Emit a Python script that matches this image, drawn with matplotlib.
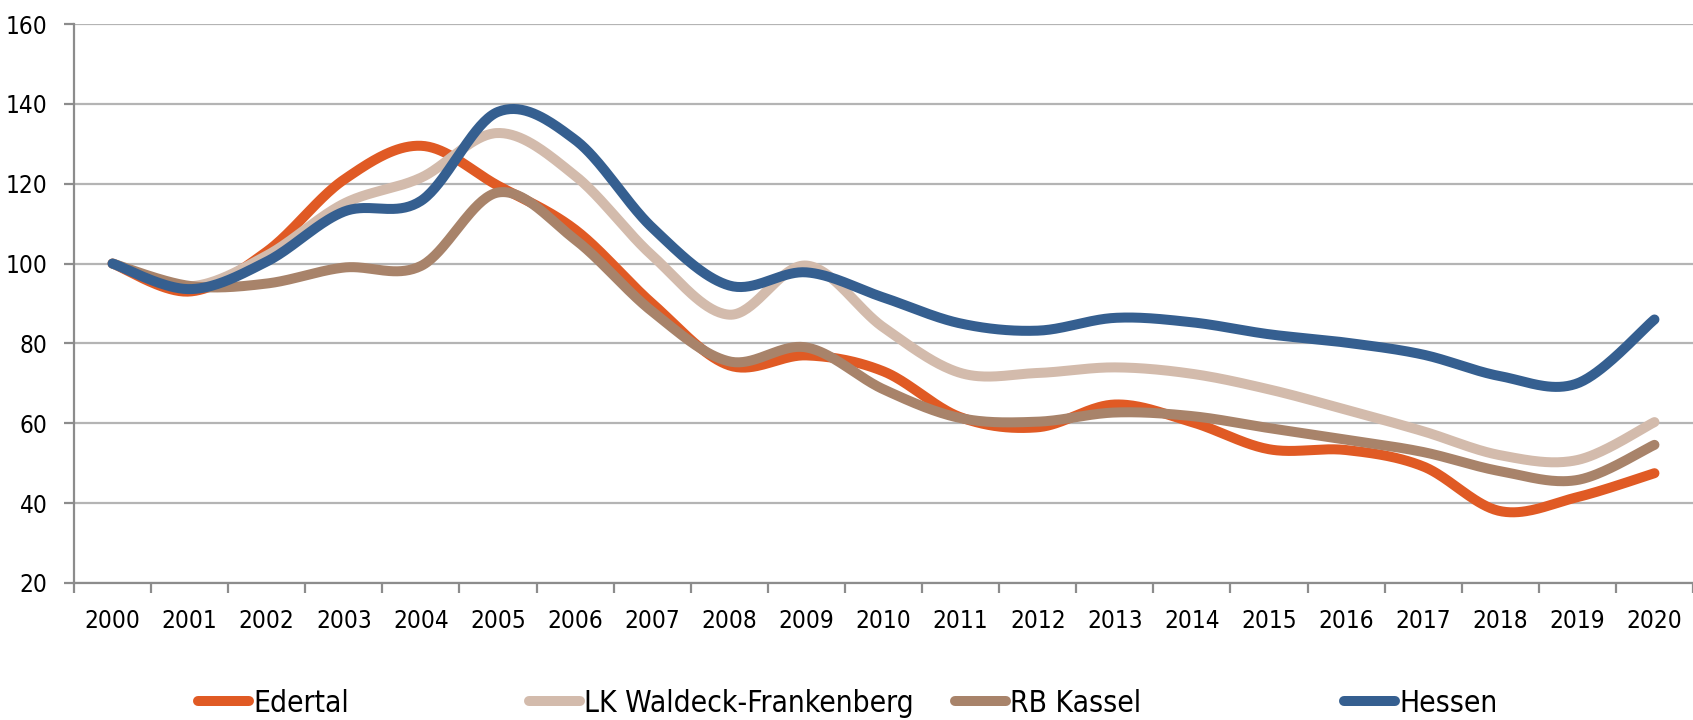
import numpy as np
import matplotlib
matplotlib.use("Agg")
import matplotlib.pyplot as plt
from matplotlib.lines import Line2D

# index values (2000 = 100)
years = [str(y) for y in range(2000, 2021)]
edertal = [100, 93, 103, 121, 129.5, 119.5, 108.5, 90, 74.5, 77, 73, 61.5, 59, 64.7,
           60.3, 53.5, 53.3, 49.2, 38, 41.5, 47.5]
lk_waldeck = [100, 94.3, 102, 115, 121.5, 132.7, 122, 102, 87.2, 99.5, 84, 72.6, 72.6, 74,
              72.4, 68.5, 63.4, 58, 52, 50.8, 60.3]
rb_kassel = [100, 94.4, 95, 99, 99.4, 117.8, 106, 88, 75.5, 79, 68.5, 61.3, 60.4, 62.7,
             61.8, 58.8, 55.9, 52.8, 48, 45.8, 54.6]
hessen = [100, 93.6, 100.5, 113, 115.7, 138, 131, 109, 94.5, 97.8, 91.5, 85, 83.2, 86.4,
          85.3, 82.3, 80.2, 77.2, 71.8, 70, 86]

series = [("Edertal", edertal, "#E05A24"),
          ("LK Waldeck-Frankenberg", lk_waldeck, "#D3BBAC"),
          ("RB Kassel", rb_kassel, "#A8836A"),
          ("Hessen", hessen, "#355F90")]

# narrow sans, closest thing to the Arial Narrow of the original
plt.rcParams['font.family'] = ['DejaVu Sans']
plt.rcParams['font.stretch'] = 'condensed'


def smooth(x, y, n=40):
    "Excel-like smoothed line (Catmull-Rom as cubic bezier)."
    pts = np.column_stack([x, y]).astype(float)
    P = np.vstack([pts[0], pts, pts[-1]])
    t = np.linspace(0, 1, n)[:, None]
    out = []
    for i in range(1, len(P) - 2):
        p0, p1, p2, p3 = P[i - 1], P[i], P[i + 1], P[i + 2]
        c1 = p1 + (p2 - p0) / 6
        c2 = p2 - (p3 - p1) / 6
        seg = (1 - t) ** 3 * p1 + 3 * (1 - t) ** 2 * t * c1 + 3 * (1 - t) * t ** 2 * c2 + t ** 3 * p2
        out.append(seg if i == 1 else seg[1:])
    out = np.vstack(out)
    return out[:, 0], out[:, 1]


fig = plt.figure(figsize=(16.93, 7.2), dpi=100)
ax = fig.add_axes([74 / 1693, 1 - 583 / 720, 1 - 74 / 1693, (583 - 24) / 720])

x = np.arange(len(years))
for name, vals, col in series:
    sx, sy = smooth(x, vals)
    ax.plot(sx, sy, color=col, lw=7.2, solid_capstyle='round', label=name, zorder=3)

ax.set_xlim(-0.5, len(years) - 0.5)
ax.set_ylim(20, 160)
ax.set_yticks(range(20, 161, 20))
ax.yaxis.grid(True, color='#B4B4B4', lw=1.6)
ax.set_axisbelow(True)

# category axis: ticks between years, labels centered
ax.set_xticks(np.arange(-0.5, len(years), 1))
ax.set_xticklabels([])
ax.set_xticks(x, minor=True)
ax.set_xticklabels(years, minor=True)
ax.tick_params(axis='x', which='major', length=7, width=1.6, color='#8C8C8C', direction='out')
ax.tick_params(axis='x', which='minor', length=0, pad=19, labelsize=17.5)
ax.tick_params(axis='y', length=7, width=1.6, color='#8C8C8C', pad=12, labelsize=17.5)

for s in ['top', 'right']:
    ax.spines[s].set_visible(False)
for s in ['left', 'bottom']:
    ax.spines[s].set_color('#8C8C8C')
    ax.spines[s].set_linewidth(1.6)
ax.spines['bottom'].set_zorder(2)

# legend entries placed like the original (one small legend each)
leg_x = [198, 529, 955, 1344]
for (name, vals, col), lx in zip(series, leg_x):
    h = Line2D([], [], color=col, lw=7.2, solid_capstyle='round')
    fig.legend(handles=[h], labels=[name], loc='center left',
               bbox_to_anchor=(lx / 1693, 1 - 703 / 720), frameon=False,
               fontsize=21.5, handlelength=1.7, handletextpad=0.15, borderpad=0,
               borderaxespad=0)

fig.savefig("out.png", dpi=100)
